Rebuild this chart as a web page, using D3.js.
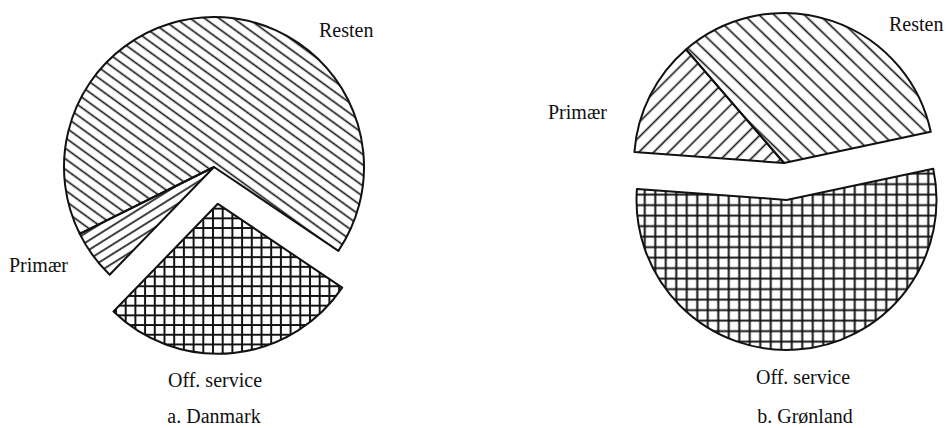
<!DOCTYPE html>
<html>
<head>
<meta charset="utf-8">
<script src="https://cdn.jsdelivr.net/npm/d3@7"></script>
<style>
  body { margin: 0; background: #fff; }
  text { font-family: "Liberation Serif", "Times New Roman", serif; font-size: 20px; fill: #111; }
</style>
</head>
<body>
<svg id="chart" width="947" height="428"></svg>
<script>
// slice order is clockwise from the start angle
const categories = ["Off. service", "Primær", "Resten"];
const danmarkValues = [27.8, 5.4, 66.8];
const gronlandValues = [54.5, 12.5, 33.0];
const chartTitles = ["a. Danmark", "b. Grønland"];

const svg = d3.select("#chart");
const defs = svg.append("defs");

// hatch patterns: single lines (rotated) and a square grid
const hatch = (id, angle, gap, sw) => {
  defs.append("pattern")
    .attr("id", id)
    .attr("patternUnits", "userSpaceOnUse")
    .attr("width", gap).attr("height", gap)
    .attr("patternTransform", `rotate(${angle})`)
    .append("line")
      .attr("x1", 0).attr("x2", gap)
      .attr("y1", gap / 2).attr("y2", gap / 2)
      .attr("stroke", "#111").attr("stroke-width", sw);
};
const grid = (id, gap, sw) => {
  defs.append("pattern")
    .attr("id", id)
    .attr("patternUnits", "userSpaceOnUse")
    .attr("width", gap).attr("height", gap)
    .append("path")
      .attr("d", `M0,${gap / 2}H${gap}M${gap / 2},0V${gap}`)
      .attr("stroke", "#111").attr("stroke-width", sw)
      .attr("fill", "none");
};

hatch("dk-resten", 36, 8.5, 1.6);
hatch("dk-primaer", -32, 8, 1.6);
grid("dk-off", 9.7, 2);
hatch("gl-resten", 44, 10.5, 1.6);
hatch("gl-primaer", -45, 10.5, 1.6);
grid("gl-off", 10.5, 2);

const deg = Math.PI / 180;

const pies = [
  { values: danmarkValues, title: chartTitles[0], cx: 214, cy: 167, r: 150, start: 124,
    fills: ["dk-off", "dk-primaer", "dk-resten"],
    labels: [
      { t: categories[0], x: 215, y: 387, a: "middle" },
      { t: categories[1], x: 9, y: 272, a: "start" },
      { t: categories[2], x: 319, y: 37, a: "start" }
    ],
    titleX: 214, titleY: 423 },
  { values: gronlandValues, title: chartTitles[1], cx: 784, cy: 163, r: 150, start: 78,
    fills: ["gl-off", "gl-primaer", "gl-resten"],
    labels: [
      { t: categories[0], x: 803, y: 384, a: "middle" },
      { t: categories[1], x: 548, y: 119, a: "start" },
      { t: categories[2], x: 889, y: 31, a: "start" }
    ],
    titleX: 805, titleY: 423 }
];

const explode = 37; // Off. service is pulled out of the pie

pies.forEach(p => {
  const pie = d3.pie().sort(null)
    .startAngle(p.start * deg)
    .endAngle(p.start * deg + 2 * Math.PI);
  const arc = d3.arc().innerRadius(0).outerRadius(p.r);

  const g = svg.append("g").attr("transform", `translate(${p.cx},${p.cy})`);

  g.selectAll("path.slice")
    .data(pie(p.values))
    .enter().append("path")
      .attr("class", "slice")
      .attr("transform", (d, i) => {
        if (i !== 0) return null;
        const mid = (d.startAngle + d.endAngle) / 2;
        return `translate(${explode * Math.sin(mid)},${-explode * Math.cos(mid)})`;
      })
      .attr("d", arc)
      .attr("fill", (d, i) => `url(#${p.fills[i]})`)
      .attr("stroke", "#111")
      .attr("stroke-width", 2)
      .attr("stroke-linejoin", "round");

  p.labels.forEach(l => {
    svg.append("text")
      .attr("x", l.x).attr("y", l.y)
      .attr("text-anchor", l.a)
      .text(l.t);
  });

  svg.append("text")
    .attr("x", p.titleX).attr("y", p.titleY)
    .attr("text-anchor", "middle")
    .text(p.title);
});
</script>
</body>
</html>
